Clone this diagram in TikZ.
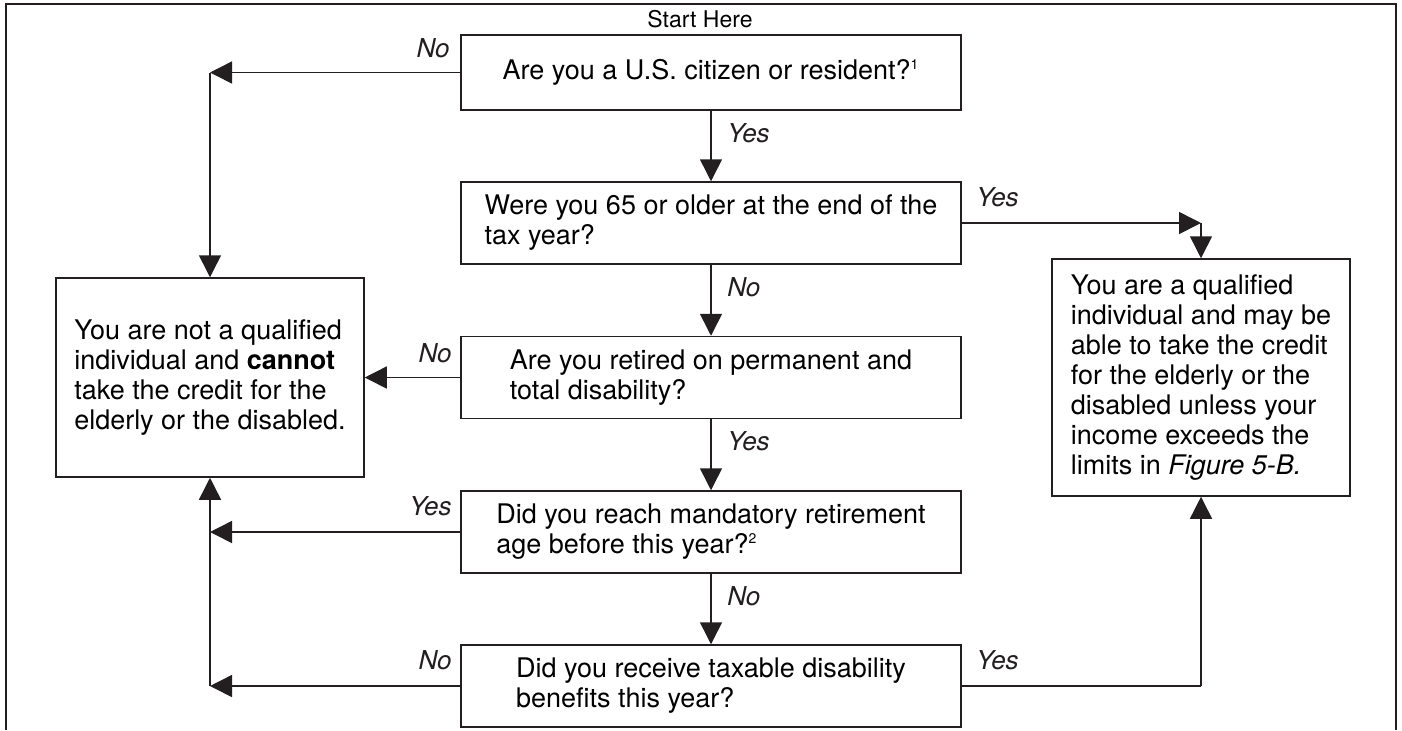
\documentclass[tikz,border=0pt]{standalone}
\usepackage{fontspec}
\setmainfont{TeX Gyre Heros}
\usepackage{tikz}
\usetikzlibrary{positioning, arrows.meta, shapes}
\definecolor{tinta}{RGB}{35, 31, 32}
\tikzset{
    ques/.style={draw=tinta, rectangle, line width=0.75pt, minimum width=250pt, minimum height=41pt, inner sep=0pt, align=left, font=\fontsize{13.5}{15}\selectfont},
    endb/.style={draw=tinta, rectangle, line width=0.75pt, inner sep=0pt, align=left, font=\fontsize{13.5}{15}\selectfont},
    lab/.style={font=\fontsize{13}{14}\selectfont\itshape, inner sep=0pt, text=tinta},
    conn/.style={-{Triangle[length=11pt, width=11pt]}, tinta, line width=0.75pt},
    connPlain/.style={-, tinta, line width=0.75pt},
}

\begin{document}
\begin{tikzpicture}[x=0.5pt, y=-0.5pt]
        \useasboundingbox (0,0) rectangle (1402,730);
        \draw[connPlain] (6,730) -- (6,4) -- (1396,4) -- (1396,730);

        \node[font=\fontsize{11.5}{13}\selectfont, anchor=base, inner sep=0pt] (start) at (700,27) {Start Here};

        \node[ques, minimum height=37.5pt] (q1) at (711,72.5) {Are you a U.S. citizen or resident?\textsuperscript{\scriptsize 1}};
        \node[ques] (q2) at (711,223) {Were you 65 or older at the end of the\\tax year?};
        \node[ques] (q3) at (711,377.5) {Are you retired on permanent and\\total disability?};
        \node[ques] (q4) at (711,532) {Did you reach mandatory retirement\\age before this year?\textsuperscript{\scriptsize 2}};
        \node[ques] (q5) at (711,686) {Did you receive taxable disability\\benefits this year?};

        \node[endb, minimum width=154pt, minimum height=99.5pt] (outno) at (210,377.5) {You are not a qualified\\individual and \textbf{cannot}\\take the credit for the\\elderly or the disabled.};
        \node[endb, minimum width=149pt, minimum height=118.5pt] (outyes) at (1201,377.5) {You are a qualified\\individual and may be\\able to take the credit\\for the elderly or the\\disabled unless your\\income exceeds the\\limits in \textit{Figure 5-B.}};

        \node[lab, anchor=base east] (txt1) at (450,57) {No};
        \node[lab, anchor=base west] (txt2) at (727,142) {Yes};
        \node[lab, anchor=base west] (txt3) at (976,206) {Yes};
        \node[lab, anchor=base west] (txt4) at (727,296) {No};
        \node[lab, anchor=base east] (txt5) at (452,362) {No};
        \node[lab, anchor=base west] (txt6) at (727,450) {Yes};
        \node[lab, anchor=base east] (txt7) at (452,515) {Yes};
        \node[lab, anchor=base west] (txt8) at (727,605) {No};
        \node[lab, anchor=base east] (txt9) at (452,669) {No};
        \node[lab, anchor=base west] (txt10) at (976,669) {Yes};

        \coordinate (c1) at (q1.west -| outno.north);
        \coordinate (c2) at (q2.east -| outyes.north);
        \coordinate (c4) at (q4.west -| outno.south);
        \coordinate (c5) at (q5.west -| outno.south);
        \coordinate (c6) at (q5.east -| outyes.south);

        \draw[conn] (q1.south) -- (q2.north);
        \draw[conn] (q2.south) -- (q3.north);
        \draw[conn] (q3.south) -- (q4.north);
        \draw[conn] (q4.south) -- (q5.north);

        \draw[conn] (q1.west) -- (c1);
        \draw[conn] (c1) -- (outno.north);
        \draw[conn] (q2.east) -- (c2);
        \draw[conn] (c2) -- (outyes.north);
        \draw[conn] (q3.west) -- (outno.east);
        \draw[conn] (q4.west) -- (c4);
        \draw[conn] (q5.west) -- (c5);
        \draw[conn] (c5) -- (outno.south);
        \draw[connPlain] (q5.east) -- (c6);
        \draw[conn] (c6) -- (outyes.south);
\end{tikzpicture}
\end{document}
